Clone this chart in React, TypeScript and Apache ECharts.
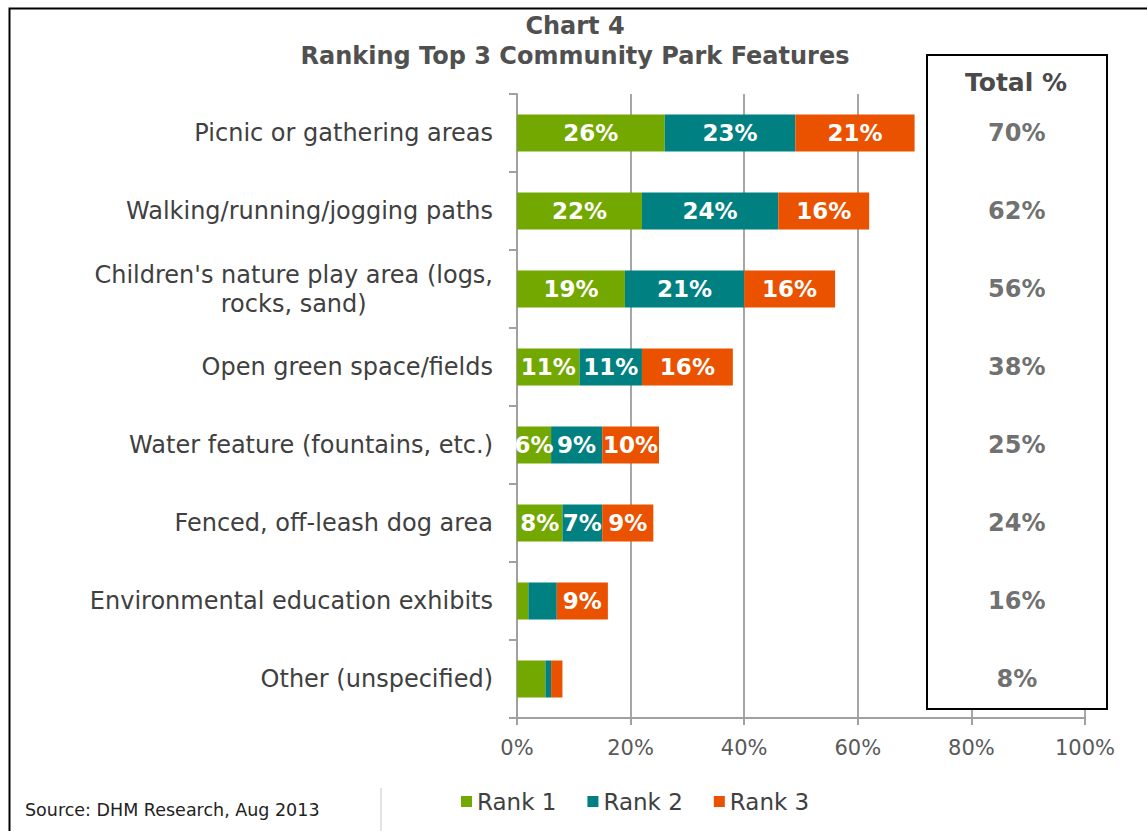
import React, { useEffect, useRef } from "react";
import * as echarts from "echarts";

const categories = [
  "Picnic or gathering areas",
  "Walking/running/jogging paths",
  "Children's nature play area (logs,\nrocks, sand)",
  "Open green space/fields",
  "Water feature (fountains, etc.)",
  "Fenced, off-leash dog area",
  "Environmental education exhibits",
  "Other (unspecified)",
];
const rank1 = [26, 22, 19, 11, 6, 8, 2, 5];
const rank2 = [23, 24, 21, 11, 9, 7, 5, 1];
const rank3 = [21, 16, 16, 16, 10, 9, 9, 2];
const totals = [70, 62, 56, 38, 25, 24, 16, 8];
const xTicks = [0, 20, 40, 60, 80, 100];
const totalColumnX = 88;

const FONT = "DejaVu Sans";

export default function App() {
  const ref = useRef<HTMLDivElement>(null);
  useEffect(() => {
    document.body.style.margin = "0";
    if (!ref.current) return;
    const chart = echarts.init(ref.current, undefined, { renderer: "svg" });
    const barLabel = {
      show: true,
      position: "inside",
      color: "#ffffff",
      fontFamily: FONT,
      fontWeight: "bold",
      fontSize: 23,
      formatter: (p: any) => (p.value >= 6 ? p.value + "%" : ""),
    };
    const mkBar = (name: string, data: number[], color: string) => ({
      name,
      type: "bar",
      stack: "total",
      data,
      barWidth: 37,
      itemStyle: { color },
      label: barLabel,
    });
    chart.setOption({
      animation: false,
      backgroundColor: "#ffffff",
      title: {
        text: "Chart 4\nRanking Top 3 Community Park Features",
        left: 575,
        textAlign: "center",
        top: 11,
        padding: 0,
        textStyle: {
          fontFamily: FONT,
          fontWeight: "bold",
          fontSize: 24,
          lineHeight: 30,
          color: "#505050",
        },
      },
      grid: { left: 517, right: 62, top: 94, bottom: 113, containLabel: false },
      legend: {
        left: 461,
        top: 790,
        padding: 0,
        itemWidth: 11,
        itemHeight: 11,
        itemGap: 31,
        icon: "rect",
        textStyle: { fontFamily: FONT, fontSize: 23, color: "#404040" },
        data: ["Rank 1", "Rank 2", "Rank 3"],
      },
      xAxis: {
        type: "value",
        min: xTicks[0],
        max: xTicks[xTicks.length - 1],
        interval: 20,
        axisLine: { show: true, lineStyle: { color: "#A0A0A0", width: 2 } },
        axisTick: { show: true, length: 7, lineStyle: { color: "#A0A0A0", width: 2 } },
        splitLine: { show: true, lineStyle: { color: "#A6A6A6", width: 2 } },
        axisLabel: {
          formatter: "{value}%",
          fontFamily: FONT,
          fontSize: 21,
          color: "#595959",
          margin: 19,
        },
      },
      yAxis: {
        type: "category",
        inverse: true,
        data: categories,
        axisLine: { show: true, lineStyle: { color: "#A0A0A0", width: 2 } },
        axisTick: { show: true, length: 8, lineStyle: { color: "#A0A0A0", width: 2 } },
        axisLabel: {
          margin: 24,
          fontFamily: FONT,
          fontSize: 24,
          color: "#404040",
          lineHeight: 29,
          formatter: (v: string) =>
            v
              .split("\n")
              .map((l) => `{c|${l}}`)
              .join("\n"),
          rich: {
            c: {
              align: "center",
              fontFamily: FONT,
              fontSize: 24,
              color: "#404040",
              lineHeight: 29,
            },
          },
        },
      },
      graphic: [
        {
          type: "rect",
          left: 7,
          top: 6,
          z: 0,
          shape: { x: 0, y: 0, width: 1200, height: 900 },
          style: { fill: "none", stroke: "#000000", lineWidth: 2 },
        },
        {
          type: "rect",
          z: 1,
          shape: { x: 927, y: 55, width: 180, height: 654 },
          style: { fill: "#ffffff", stroke: "#000000", lineWidth: 2 },
        },
        {
          type: "text",
          z: 3,
          x: 1016,
          y: 82,
          style: {
            text: "Total %",
            fontFamily: FONT,
            fontWeight: "bold",
            fontSize: 25,
            fill: "#4A4A4A",
            align: "center",
            verticalAlign: "middle",
          },
        },
        {
          type: "line",
          z: 1,
          shape: { x1: 381, y1: 788, x2: 381, y2: 831 },
          style: { stroke: "#C8C8C8", lineWidth: 1 },
        },
        {
          type: "text",
          z: 3,
          x: 25,
          y: 810,
          style: {
            text: "Source: DHM Research, Aug 2013",
            fontFamily: FONT,
            fontSize: 17.5,
            fill: "#222222",
            align: "left",
            verticalAlign: "middle",
          },
        },
      ],
      series: [
        mkBar("Rank 1", rank1, "#73A800"),
        mkBar("Rank 2", rank2, "#008080"),
        mkBar("Rank 3", rank3, "#EA5200"),
        {
          name: "Total",
          type: "scatter",
          z: 4,
          symbolSize: 1,
          itemStyle: { color: "rgba(0,0,0,0)" },
          data: totals.map((t, i) => [totalColumnX, i, t]),
          label: {
            show: true,
            position: "inside",
            fontFamily: FONT,
            fontWeight: "bold",
            fontSize: 24,
            color: "#4A4A4A",
            formatter: (p: any) => p.value[2] + "%",
          },
        },
      ],
    });
    return () => chart.dispose();
  }, []);
  return <div ref={ref} style={{ width: 1147, height: 831 }} />;
}
